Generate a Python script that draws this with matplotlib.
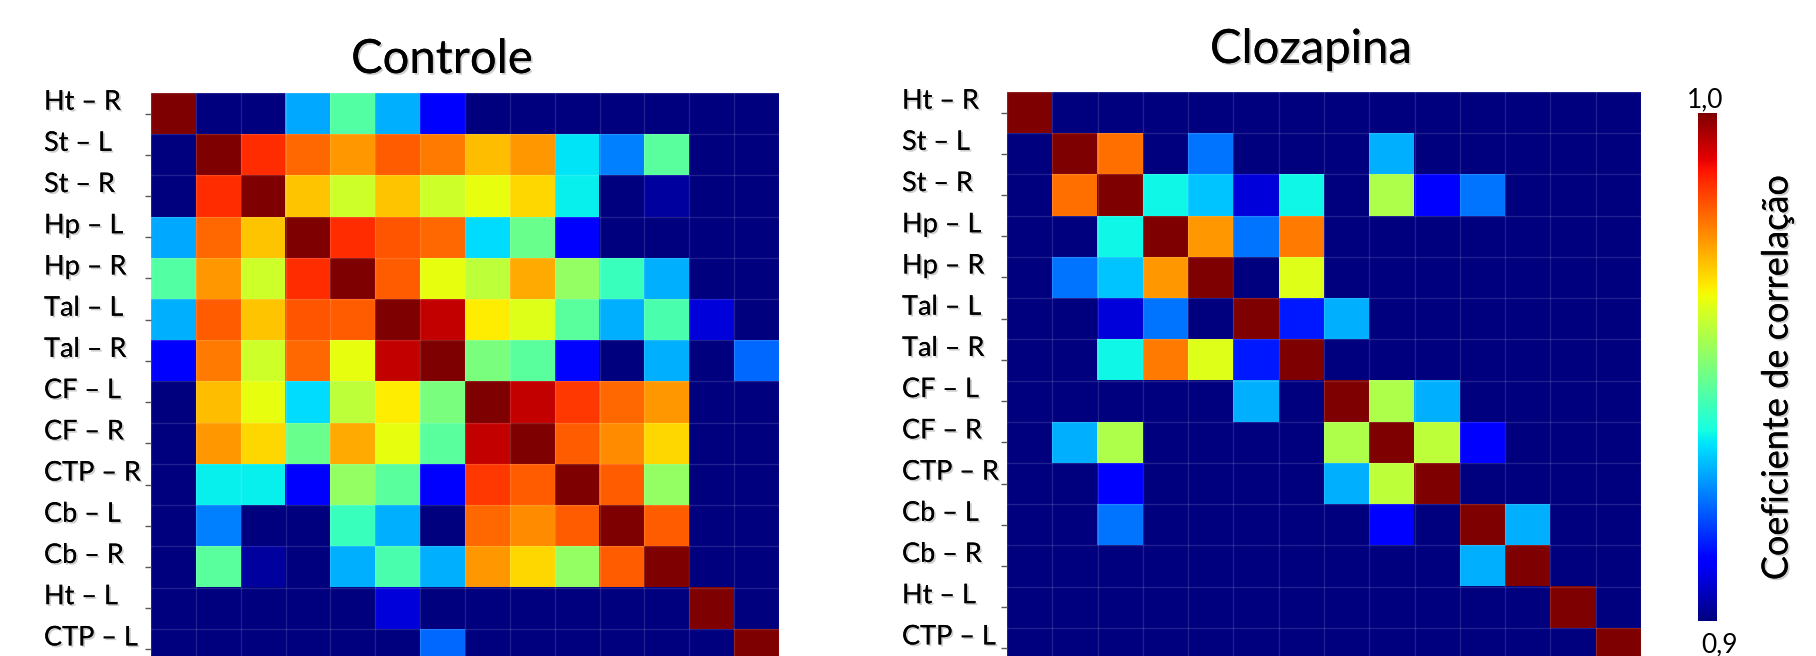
import numpy as np
import matplotlib
matplotlib.use("Agg")
import matplotlib.pyplot as plt
import matplotlib.patheffects as pe
from matplotlib import transforms

plt.rcParams['font.family'] = ['Lato', 'DejaVu Sans']

# ---------------- data ----------------
regions = ["Ht – R", "St – L", "St – R", "Hp – L", "Hp – R", "Tal – L", "Tal – R",
           "CF – L", "CF – R", "CTP – R", "Cb – L", "Cb – R", "Ht – L", "CTP – L"]

controle = [
    [1.00, .900, .900, .929, .945, .930, .912, .900, .900, .900, .900, .900, .900, .900],
    [.900, 1.00, .986, .980, .975, .981, .978, .971, .975, .935, .925, .946, .900, .900],
    [.900, .986, 1.00, .970, .960, .970, .960, .963, .968, .936, .900, .903, .900, .900],
    [.929, .980, .970, 1.00, .986, .982, .980, .934, .948, .912, .900, .900, .900, .900],
    [.945, .975, .960, .986, 1.00, .981, .963, .958, .973, .953, .942, .930, .900, .900],
    [.930, .981, .970, .982, .981, 1.00, .994, .966, .962, .946, .930, .944, .908, .900],
    [.912, .978, .960, .980, .963, .994, 1.00, .950, .946, .913, .900, .930, .900, .923],
    [.900, .971, .963, .934, .958, .966, .950, 1.00, .994, .985, .980, .975, .900, .900],
    [.900, .975, .968, .948, .973, .963, .946, .994, 1.00, .981, .976, .968, .900, .900],
    [.900, .936, .936, .912, .953, .946, .912, .985, .981, 1.00, .981, .953, .900, .900],
    [.900, .925, .900, .900, .942, .930, .900, .980, .976, .981, 1.00, .981, .900, .900],
    [.900, .946, .903, .900, .930, .944, .930, .975, .968, .953, .981, 1.00, .900, .900],
    [.900, .900, .900, .900, .900, .908, .900, .900, .900, .900, .900, .900, 1.00, .900],
    [.900, .900, .900, .900, .900, .900, .923, .900, .900, .900, .900, .900, .900, 1.00],
]

clozapina = [
    [1.00, .900, .900, .900, .900, .900, .900, .900, .900, .900, .900, .900, .900, .900],
    [.900, 1.00, .979, .900, .924, .900, .900, .900, .930, .900, .900, .900, .900, .900],
    [.900, .979, 1.00, .937, .932, .908, .937, .900, .956, .912, .924, .900, .900, .900],
    [.900, .900, .937, 1.00, .975, .924, .978, .900, .900, .900, .900, .900, .900, .900],
    [.900, .924, .932, .975, 1.00, .900, .962, .900, .900, .900, .900, .900, .900, .900],
    [.900, .900, .908, .924, .900, 1.00, .915, .930, .900, .900, .900, .900, .900, .900],
    [.900, .900, .937, .978, .962, .915, 1.00, .900, .900, .900, .900, .900, .900, .900],
    [.900, .900, .900, .900, .900, .930, .900, 1.00, .956, .930, .900, .900, .900, .900],
    [.900, .930, .956, .900, .900, .900, .900, .956, 1.00, .958, .912, .900, .900, .900],
    [.900, .900, .912, .900, .900, .900, .900, .930, .958, 1.00, .900, .900, .900, .900],
    [.900, .900, .924, .900, .900, .900, .900, .900, .912, .900, 1.00, .930, .900, .900],
    [.900, .900, .900, .900, .900, .900, .900, .900, .900, .900, .930, 1.00, .900, .900],
    [.900, .900, .900, .900, .900, .900, .900, .900, .900, .900, .900, .900, 1.00, .900],
    [.900, .900, .900, .900, .900, .900, .900, .900, .900, .900, .900, .900, .900, 1.00],
]

titles = ["Controle", "Clozapina"]
vmin, vmax = 0.9, 1.0
cbar_label = "Coeficiente de correlação"
cbar_end_labels = ["0,9", "1,0"]

# ---------------- layout ----------------
W, H = 1816, 656
fig = plt.figure(figsize=(W / 100, H / 100), dpi=100)


def box(left, top, width, height):
    return [left / W, 1 - (top + height) / H, width / W, height / H]


shadow = [pe.withSimplePatchShadow(offset=(1.3, -1.3), shadow_rgbFace='0.45', alpha=0.35), pe.Normal()]

panels = [
    dict(data=controle, rect=box(151, 93, 628, 577), title_xy=(442, 73), label_x=44),
    dict(data=clozapina, rect=box(1007, 92, 634, 577), title_xy=(1311, 63), label_x=902),
]

im = None
for p, title in zip(panels, titles):
    ax = fig.add_axes(p["rect"])
    im = ax.imshow(np.array(p["data"]), cmap="jet", vmin=vmin, vmax=vmax,
                   aspect="auto", interpolation="nearest")
    n = len(regions)
    ax.set_xticks([])
    ax.set_yticks(np.arange(n))
    ax.set_yticklabels([])
    ax.tick_params(axis="y", length=4, width=1, color="0.35", direction="out")
    ax.set_xticks(np.arange(-0.5, n, 1), minor=True)
    ax.set_yticks(np.arange(-0.5, n, 1), minor=True)
    ax.tick_params(which="minor", length=0)
    ax.grid(which="minor", color="white", alpha=0.13, lw=1)
    for s in ax.spines.values():
        s.set_visible(False)

    trans = transforms.blended_transform_factory(fig.transFigure, ax.transData)
    trans = transforms.offset_copy(trans, fig=fig, x=0, y=4, units="dots")
    for i, lab in enumerate(regions):
        ax.text(p["label_x"] / W, i, lab, transform=trans, ha="left", va="baseline",
                fontsize=19.5, color="black", path_effects=shadow, clip_on=False)

    tx, ty = p["title_xy"]
    fig.text(tx / W, 1 - ty / H, title, ha="center", va="baseline",
             fontsize=34, color="black", path_effects=shadow)

# ---------------- colorbar ----------------
cax = fig.add_axes(box(1698, 113, 19, 508))
cb = fig.colorbar(im, cax=cax)
cb.set_ticks([])
cb.outline.set_visible(False)
fig.text(1705 / W, 1 - 107 / H, cbar_end_labels[1], ha="center", va="baseline", fontsize=19)
fig.text(1719 / W, 1 - 652 / H, cbar_end_labels[0], ha="center", va="baseline", fontsize=19)
fig.text(1777 / W, 1 - 378 / H, cbar_label, rotation=90, ha="center", va="center",
         fontsize=26, path_effects=shadow)

fig.savefig("out.png", dpi=100)
